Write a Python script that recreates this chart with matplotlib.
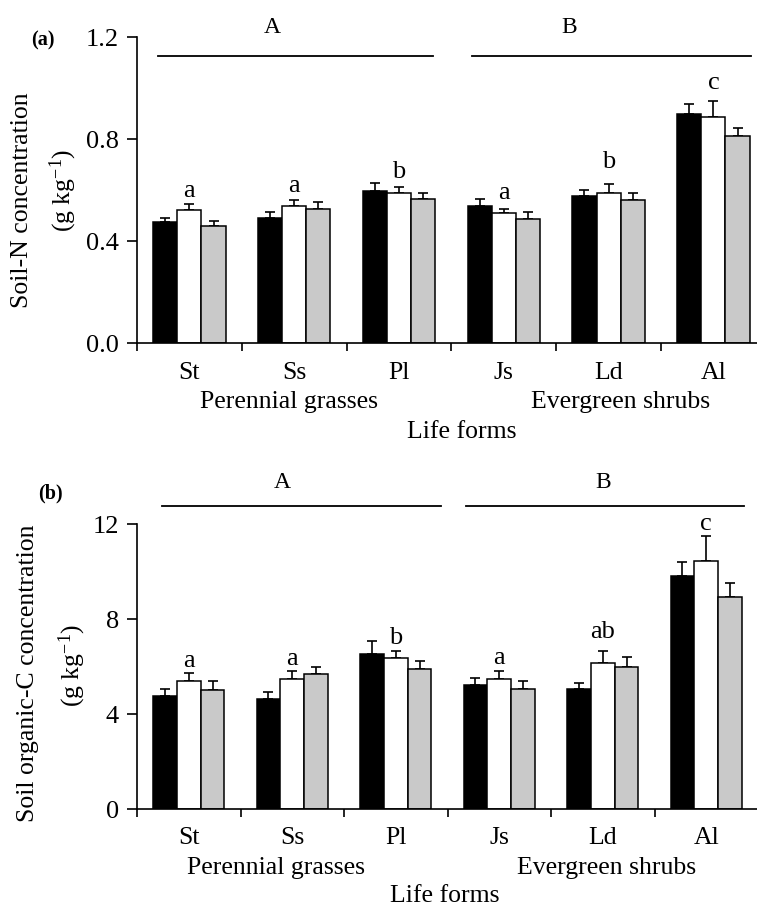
import matplotlib
matplotlib.use("Agg")
import matplotlib.pyplot as plt
import numpy as np

plt.rcParams['font.family'] = ['Liberation Serif', 'DejaVu Serif']
plt.rcParams['mathtext.fontset'] = 'custom'
plt.rcParams['mathtext.rm'] = 'Liberation Serif'
plt.rcParams['mathtext.it'] = 'Liberation Serif:italic'

species = ["St", "Ss", "Pl", "Js", "Ld", "Al"]

# Panel (a): Soil-N (g/kg)
n_black = [0.476, 0.491, 0.596, 0.538, 0.578, 0.899]
n_black_err = [0.014, 0.021, 0.031, 0.028, 0.022, 0.037]
n_white = [0.522, 0.538, 0.589, 0.511, 0.589, 0.888]
n_white_err = [0.024, 0.021, 0.021, 0.013, 0.033, 0.062]
n_gray = [0.460, 0.527, 0.566, 0.488, 0.560, 0.810]
n_gray_err = [0.018, 0.024, 0.022, 0.024, 0.027, 0.034]
n_letters = ["a", "a", "b", "a", "b", "c"]
n_letter_y = [0.573, 0.592, 0.647, 0.565, 0.686, 0.996]

# Panel (b): Soil organic-C (g/kg)
c_black = [4.77, 4.66, 6.54, 5.23, 5.05, 9.82]
c_black_err = [0.28, 0.28, 0.53, 0.28, 0.28, 0.58]
c_white = [5.41, 5.47, 6.36, 5.50, 6.16, 10.44]
c_white_err = [0.31, 0.36, 0.31, 0.34, 0.49, 1.08]
c_gray = [5.02, 5.71, 5.92, 5.05, 5.98, 8.95]
c_gray_err = [0.39, 0.28, 0.34, 0.36, 0.42, 0.56]
c_letters = ["a", "a", "b", "a", "ab", "c"]
c_letter_y = [6.0, 6.08, 6.96, 6.12, 7.2, 11.76]

W, H = 757, 908
fig = plt.figure(figsize=(W / 100, H / 100), dpi=100)

def fx(px):
    return px / W

def fy(py):
    return 1 - py / H

FS = 18.5
bw = 0.23
x = np.arange(len(species))

def panel(ax_rect, xmax, ylim, yticks, yfmt, black, be, white, we, gray, ge,
          letters, letter_y, lineA, lineB, liney, labA, labB, laby, tickpad):
    ax = fig.add_axes(ax_rect)
    for vals, errs, off, fc in [(black, be, -bw, 'black'), (white, we, 0, 'white'),
                                (gray, ge, bw, '#c9c9c9')]:
        ax.bar(x + off, vals, width=bw, color=fc, edgecolor='black', linewidth=1.1, zorder=2)
        ax.errorbar(x + off, vals, yerr=[np.zeros(len(vals)), errs], fmt='none',
                    ecolor='black', elinewidth=1.2, capsize=3.8, capthick=1.2, zorder=1)
    ax.set_xlim(-0.5, xmax)
    ax.set_ylim(*ylim)
    ax.set_yticks(yticks)
    ax.set_yticklabels([yfmt.format(v) for v in yticks], fontsize=19)
    ax.set_xticks(x)
    ax.set_xticklabels(species, fontsize=FS)
    ax.set_xticks(np.arange(-0.5, 5.0, 1.0), minor=True)
    ax.tick_params(axis='x', which='major', length=0, pad=tickpad)
    ax.tick_params(axis='x', which='minor', length=6, width=1.2, direction='out')
    ax.tick_params(axis='y', length=7, width=1.2, direction='out', pad=6)
    for s in ['top', 'right']:
        ax.spines[s].set_visible(False)
    for s in ['left', 'bottom']:
        ax.spines[s].set_linewidth(1.2)
    for xi, lt, ly in zip(x, letters, letter_y):
        ax.text(xi, ly, lt, ha='center', va='baseline', fontsize=19)
    ax.plot(lineA, [liney, liney], color='black', lw=1.3, clip_on=False)
    ax.plot(lineB, [liney, liney], color='black', lw=1.3, clip_on=False)
    ax.text(labA, laby, "A", ha='center', va='center', fontsize=17, clip_on=False)
    ax.text(labB, laby, "B", ha='center', va='center', fontsize=17, clip_on=False)
    return ax

# Panel a: axis left 137px, bottom 343px, top (1.2) 37px
axa = panel([fx(137), fy(343), fx(620), (343 - 37) / H], -0.5 + 620 / 104.8,
            (0, 1.2), [0.0, 0.4, 0.8, 1.2], "{:.1f}",
            n_black, n_black_err, n_white, n_white_err, n_gray, n_gray_err,
            n_letters, n_letter_y, [-0.30, 2.325], [2.70, 5.36], 1.127,
            0.79, 3.62, 1.237, 14)

# Panel b: axis bottom 809px, top (12) 524px
axb = panel([fx(137), fy(809.3), fx(620), (809.3 - 524.3) / H], -0.5 + 620 / 103.5,
            (0, 12), [0, 4, 8, 12], "{:d}",
            c_black, c_black_err, c_white, c_white_err, c_gray, c_gray_err,
            c_letters, c_letter_y, [-0.254, 2.44], [2.68, 5.36], 12.77,
            0.905, 4.0, 13.74, 13)

# Group labels and axis titles
fig.text(fx(289), fy(402), "Perennial grasses", ha='center', va='center', fontsize=FS)
fig.text(fx(621), fy(402), "Evergreen shrubs", ha='center', va='center', fontsize=FS)
fig.text(fx(462), fy(432), "Life forms", ha='center', va='center', fontsize=FS)
fig.text(fx(276), fy(868), "Perennial grasses", ha='center', va='center', fontsize=FS)
fig.text(fx(607), fy(868), "Evergreen shrubs", ha='center', va='center', fontsize=FS)
fig.text(fx(445), fy(896), "Life forms", ha='center', va='center', fontsize=FS)

fig.text(fx(22), fy(200), "Soil-N concentration", rotation=90, ha='center', va='center', fontsize=FS)
fig.text(fx(63), fy(190), r"(g kg$^{-1}$)", rotation=90, ha='center', va='center', fontsize=FS)
fig.text(fx(28), fy(673), "Soil organic-C concentration", rotation=90, ha='center', va='center', fontsize=FS)
fig.text(fx(72), fy(665), r"(g kg$^{-1}$)", rotation=90, ha='center', va='center', fontsize=FS)

fig.text(fx(43), fy(40), "(a)", ha='center', va='center', fontsize=14.5, fontweight='bold')
fig.text(fx(50), fy(493), "(b)", ha='center', va='center', fontsize=14.5, fontweight='bold')

fig.savefig("out.png", dpi=100)
